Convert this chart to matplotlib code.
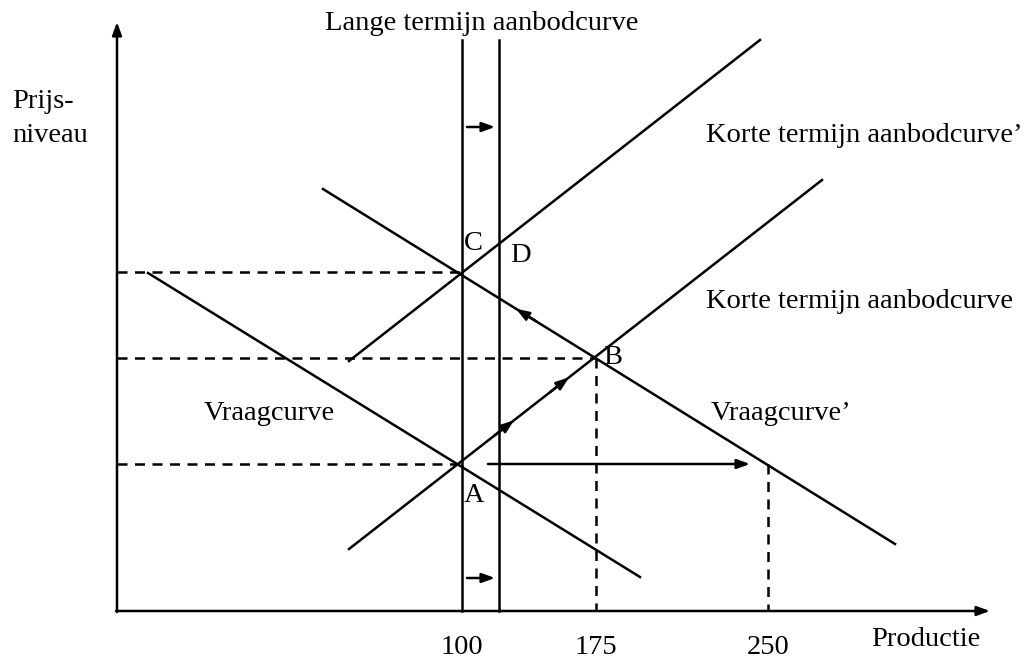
import matplotlib.pyplot as plt

plt.rcParams['font.family'] = ['Liberation Serif', 'DejaVu Serif']

# diagram coordinates (canvas units, y grows downward)
origin = (117, 611)
x_axis_end = 990
y_axis_end = 22

lras_x = [462, 499]          # lange termijn aanbodcurve, before/after
lras_top = 40

sras = [(349, 549), (822, 180)]        # korte termijn aanbodcurve
sras2 = [(349, 361), (760, 40)]        # korte termijn aanbodcurve'
demand = [(148, 273), (640, 577)]      # vraagcurve
demand2 = [(323, 189), (895, 544)]     # vraagcurve'

points = {'A': (462, 464), 'B': (596, 358), 'C': (462, 272)}

price_dash = [272, 358, 464]
price_dash_end = [462, 596, 462]
qty_dash = [596, 768]
qty_dash_top = [358, 464]

ticks = [100, 175, 250]
tick_x = [462, 596, 768]

fig = plt.figure(figsize=(10.3, 6.62), dpi=100)
ax = fig.add_axes([0, 0, 1, 1])
ax.set_xlim(0, 1030)
ax.set_ylim(662, 0)
ax.axis('off')

lw = 1.8
ak = dict(arrowstyle='-|>,head_length=0.55,head_width=0.2', color='black', lw=lw,
          mutation_scale=14, shrinkA=0, shrinkB=0)

# axes
ax.annotate('', xy=(x_axis_end, origin[1]), xytext=(origin[0] - 1, origin[1]), arrowprops=ak)
ax.annotate('', xy=(origin[0], y_axis_end), xytext=(origin[0], origin[1] + 1), arrowprops=ak)

# vertical long-run supply lines
for x in lras_x:
    ax.plot([x, x], [lras_top, origin[1]], color='black', lw=lw)

# curves
for seg in [sras, sras2, demand, demand2]:
    ax.plot([seg[0][0], seg[1][0]], [seg[0][1], seg[1][1]], color='black', lw=lw)

# dashed guides
for y, xe in zip(price_dash, price_dash_end):
    ax.plot([origin[0], xe], [y, y], color='black', lw=lw, ls=(0, (4, 3)))
for x, yt in zip(qty_dash, qty_dash_top):
    ax.plot([x, x], [yt, origin[1]], color='black', lw=lw, ls=(0, (4, 3)))

# shift arrows
for y in [127, 578]:
    ax.annotate('', xy=(495, y), xytext=(467, y), arrowprops=ak)
ax.annotate('', xy=(750, 464), xytext=(488, 464), arrowprops=ak)

# movement arrows along the supply curve and demand'
def along(seg, x0, x1):
    (xa, ya), (xb, yb) = seg
    s = (yb - ya) / (xb - xa)
    return (x1, ya + s * (x1 - xa)), (x0, ya + s * (x0 - xa))

for x0, x1 in [(495, 514), (550, 569)]:
    head, tail = along(sras, x0, x1)
    ax.annotate('', xy=head, xytext=tail, arrowprops=ak)
head, tail = along(demand2, 536, 516)
ax.annotate('', xy=head, xytext=tail, arrowprops=ak)

fs = 20.5
ax.text(482, 23, 'Lange termijn aanbodcurve', fontsize=fs, ha='center', va='center')
ax.text(12, 102, 'Prijs-', fontsize=fs, ha='left', va='center')
ax.text(12, 135, 'niveau', fontsize=fs, ha='left', va='center')
ax.text(706, 135, 'Korte termijn aanbodcurve\u2019', fontsize=fs, ha='left', va='center')
ax.text(706, 302, 'Korte termijn aanbodcurve', fontsize=fs, ha='left', va='center')
ax.text(204, 413, 'Vraagcurve', fontsize=fs, ha='left', va='center')
ax.text(711, 413, 'Vraagcurve\u2019', fontsize=fs, ha='left', va='center')
ax.text(871, 640, 'Productie', fontsize=fs, ha='left', va='center')

ax.text(points['C'][0] + 11, points['C'][1] - 28, 'C', fontsize=fs, ha='center', va='center')
ax.text(520, 255, 'D', fontsize=fs, ha='center', va='center')
ax.text(points['B'][0] + 17, points['B'][1], 'B', fontsize=fs, ha='center', va='center')
ax.text(points['A'][0] + 12, points['A'][1] + 31, 'A', fontsize=fs, ha='center', va='center')

for t, x in zip(ticks, tick_x):
    ax.text(x, 648, str(t), fontsize=fs, ha='center', va='center')

fig.savefig('out.png', dpi=100)
